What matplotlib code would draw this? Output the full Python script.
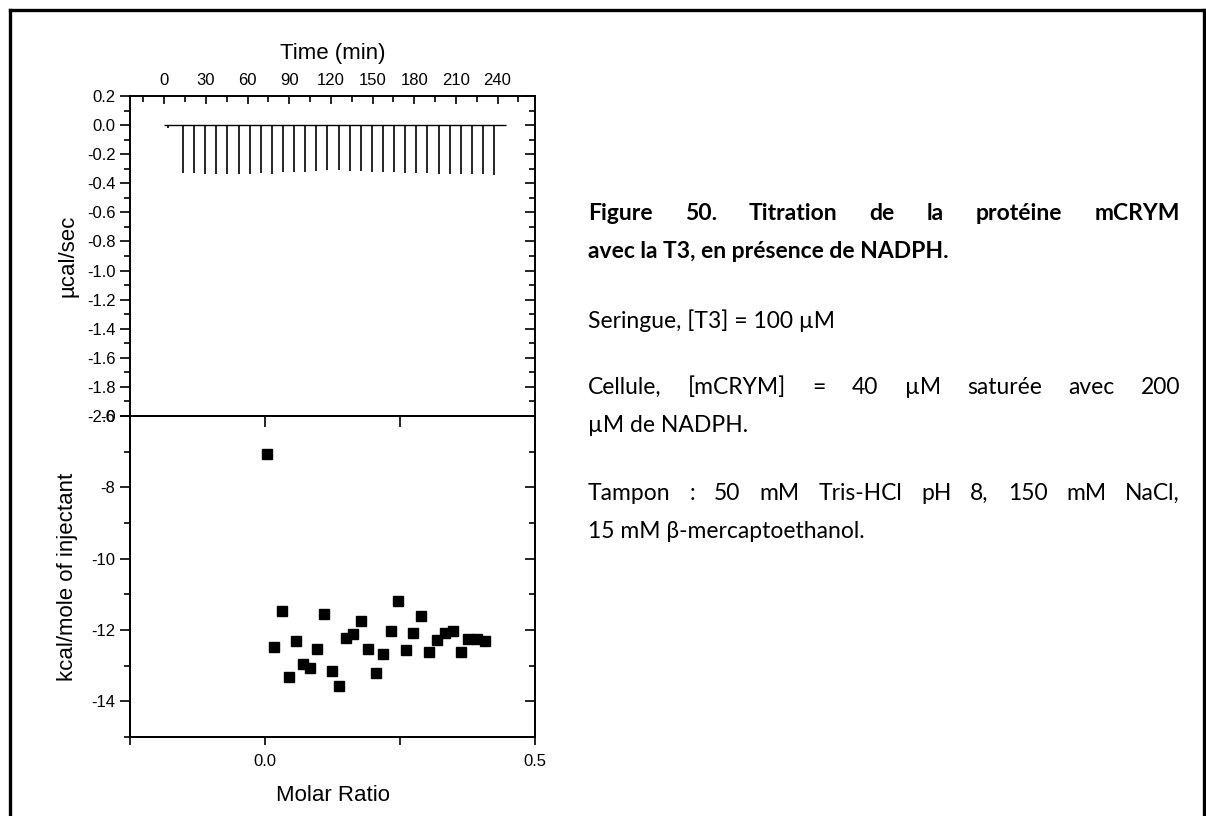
import matplotlib
matplotlib.use("Agg")
import matplotlib.pyplot as plt
from matplotlib.lines import Line2D
from matplotlib.ticker import MultipleLocator, FixedLocator, NullFormatter

# ---- raw thermogram (top panel) ----
inj_time = [3.0, 13.5, 21.5, 29.5, 37.5, 45.5, 53.5, 61.5, 69.5, 77.5, 85.5,
            93.5, 101.5, 109.5, 117.5, 125.5, 133.5, 141.5, 149.5, 157.5,
            165.5, 173.5, 181.5, 189.5, 197.5, 205.5, 213.5, 221.5, 229.5, 237.5]
inj_peak = [-0.02, -0.332, -0.332, -0.336, -0.339, -0.339, -0.339, -0.339,
            -0.332, -0.334, -0.325, -0.325, -0.321, -0.314, -0.312, -0.312,
            -0.314, -0.316, -0.321, -0.325, -0.325, -0.332, -0.332, -0.332,
            -0.334, -0.336, -0.339, -0.339, -0.339, -0.341]
run_start, run_end = 0.0, 246.0

# ---- integrated heats (bottom panel) ----
molar_ratio = [0.0043, 0.0173, 0.0309, 0.0438, 0.0574, 0.0698, 0.0833, 0.0963,
               0.1099, 0.1235, 0.1364, 0.1500, 0.1636, 0.1778, 0.1914, 0.2049,
               0.2191, 0.2333, 0.2469, 0.2611, 0.2747, 0.2889, 0.3043, 0.3179,
               0.3333, 0.3475, 0.3623, 0.3765, 0.3920, 0.4074]
kcal_mol = [-7.06, -12.47, -11.47, -13.31, -12.32, -12.95, -13.06, -12.52,
            -11.56, -13.16, -13.57, -12.23, -12.12, -11.76, -12.52, -13.20,
            -12.66, -12.02, -11.18, -12.55, -12.08, -11.62, -12.61, -12.29,
            -12.08, -12.02, -12.62, -12.24, -12.26, -12.32]

W, H = 1206, 816
AX_FONT = ["Liberation Sans", "DejaVu Sans"]
TXT_FONT = ["Lato", "DejaVu Sans"]

plt.rcParams["font.family"] = AX_FONT
plt.rcParams["axes.linewidth"] = 1.2

fig = plt.figure(figsize=(W / 100, H / 100), dpi=100)


def fx(px):
    return px / W


def fy(py):
    return 1 - py / H


left, right = 130, 535
ax_top = fig.add_axes([fx(left), fy(416), fx(right - left), (416 - 96) / H])
ax_bot = fig.add_axes([fx(left), fy(737), fx(right - left), (737 - 416) / H])

# ---------- top panel ----------
ax_top.hlines(0, run_start, run_end, color="black", lw=1.0)
ax_top.vlines(inj_time, inj_peak, 0, color="black", lw=1.2)
ax_top.set_xlim(-24.7, 267)
ax_top.set_ylim(-2.0, 0.2)

ax_top.xaxis.set_major_locator(MultipleLocator(30))
ax_top.xaxis.set_minor_locator(MultipleLocator(15))
ax_top.xaxis.tick_top()
ax_top.xaxis.set_label_position("top")
ax_top.tick_params(axis="x", which="both", direction="in", top=True, bottom=False,
                   labelsize=12, pad=6)
ax_top.tick_params(axis="x", which="major", length=6, width=1.2)
ax_top.tick_params(axis="x", which="minor", length=4, width=1.2)
ax_top.set_xlabel("Time (min)", fontsize=16, labelpad=10)

ax_top.yaxis.set_major_locator(MultipleLocator(0.2))
ax_top.yaxis.set_minor_locator(MultipleLocator(0.1))
ax_top.yaxis.set_major_formatter(matplotlib.ticker.FormatStrFormatter("%.1f"))
ax_top.tick_params(axis="y", which="both", direction="out", right=False, labelsize=12,
                   width=1.2)
ax_top.tick_params(axis="y", which="major", length=7)
ax_top.tick_params(axis="y", which="minor", length=4)
ax_top.set_ylabel("µcal/sec", fontsize=16)
ax_top.yaxis.set_label_coords(-0.128, 0.5)

top_r = ax_top.twinx()
top_r.set_ylim(ax_top.get_ylim())
top_r.yaxis.set_major_locator(MultipleLocator(0.2))
top_r.yaxis.set_minor_locator(MultipleLocator(0.1))
top_r.tick_params(axis="y", which="both", direction="in", labelright=False, width=1.2)
top_r.tick_params(axis="y", which="major", length=7)
top_r.tick_params(axis="y", which="minor", length=4)

# ---------- bottom panel ----------
ax_bot.plot(molar_ratio, kcal_mol, "s", color="black", ms=7, mec="black")
ax_bot.set_xlim(-0.25, 0.5)
ax_bot.set_ylim(-15, -6)

ax_bot.xaxis.set_major_locator(FixedLocator([-0.25, 0.0, 0.25, 0.5]))
ax_bot.set_xticklabels(["", "0.0", "", "0.5"])
ax_bot.tick_params(axis="x", which="both", direction="out", labelsize=12, length=6,
                   width=1.2, pad=6)
ax_bot.set_xlabel("Molar Ratio", fontsize=16, labelpad=12)

ax_bot.yaxis.set_major_locator(MultipleLocator(2))
ax_bot.yaxis.set_minor_locator(MultipleLocator(1))
ax_bot.yaxis.set_major_formatter(matplotlib.ticker.FormatStrFormatter("%d"))
ax_bot.tick_params(axis="y", which="both", direction="out", right=False, labelsize=12,
                   width=1.2)
ax_bot.tick_params(axis="y", which="major", length=7)
ax_bot.tick_params(axis="y", which="minor", length=4)
ax_bot.set_ylabel("kcal/mole of injectant", fontsize=16)
ax_bot.yaxis.set_label_coords(-0.128, 0.5)

bot_r = ax_bot.twinx()
bot_r.set_ylim(ax_bot.get_ylim())
bot_r.yaxis.set_major_locator(MultipleLocator(2))
bot_r.yaxis.set_minor_locator(MultipleLocator(1))
bot_r.tick_params(axis="y", which="both", direction="in", labelright=False, width=1.2)
bot_r.tick_params(axis="y", which="major", length=7)
bot_r.tick_params(axis="y", which="minor", length=4)

bot_t = ax_bot.twiny()
bot_t.set_xlim(ax_bot.get_xlim())
bot_t.xaxis.set_major_locator(FixedLocator([-0.25, 0.0, 0.25, 0.5]))
bot_t.xaxis.set_major_formatter(NullFormatter())
bot_t.tick_params(axis="x", direction="in", length=8, width=1.2)

# ---------- caption text on the right ----------
fig.canvas.draw()
renderer = fig.canvas.get_renderer()


def put_line(text, x0, y, x1=None, **kw):
    # x1 given -> justified line (spread words between x0 and x1)
    if x1 is None:
        fig.text(fx(x0), fy(y), text, va="baseline", ha="left", **kw)
        return
    words = text.split(" ")
    items = [fig.text(0, fy(y), w, va="baseline", ha="left", **kw) for w in words]
    widths = [t.get_window_extent(renderer).width for t in items]
    gap = (x1 - x0 - sum(widths)) / (len(words) - 1)
    x = x0
    for t, w in zip(items, widths):
        t.set_x(fx(x))
        x += w + gap


txt_x0, txt_x1 = 588, 1180
cap = dict(fontsize=16.5, family=TXT_FONT)
put_line("Figure 50. Titration de la protéine mCRYM", txt_x0, 220, txt_x1,
         fontweight="bold", **cap)
put_line("avec la T3, en présence de NADPH.", txt_x0, 258, fontweight="bold", **cap)
put_line("Seringue, [T3] = 100 µM", txt_x0, 328, **cap)
put_line("Cellule, [mCRYM] = 40 µM saturée avec 200", txt_x0, 394, txt_x1, **cap)
put_line("µM de NADPH.", txt_x0, 432, **cap)
put_line("Tampon : 50 mM Tris-HCl pH 8, 150 mM NaCl,", txt_x0, 500, txt_x1, **cap)
put_line("15 mM β-mercaptoethanol.", txt_x0, 538, **cap)

# page frame (open at the bottom)
frame = dict(color="black", lw=2.4, transform=fig.transFigure)
fig.add_artist(Line2D([fx(10), fx(10)], [0, fy(10)], **frame))
fig.add_artist(Line2D([fx(10), fx(1204)], [fy(10), fy(10)], **frame))
fig.add_artist(Line2D([fx(1204), fx(1204)], [fy(10), 0], **frame))

fig.savefig("out.png", dpi=100)
